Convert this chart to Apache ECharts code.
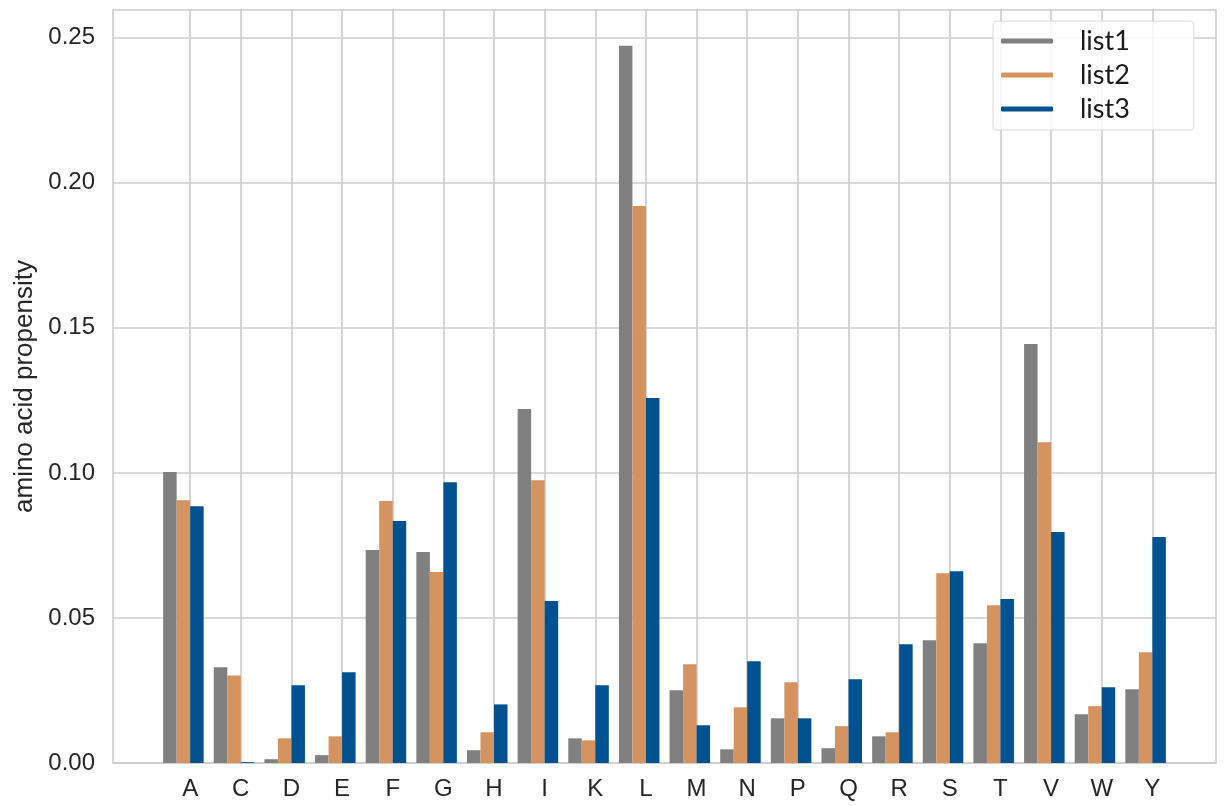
<!DOCTYPE html>
<html>
<head>
<meta charset="utf-8">
<script src="https://cdn.jsdelivr.net/npm/echarts@6/dist/echarts.min.js"></script>
<style>
html,body{margin:0;padding:0;background:#fff;}
#chart{width:1226px;height:806px;}
</style>
</head>
<body>
<div id="chart"></div>
<script>
const categories = ['A','C','D','E','F','G','H','I','K','L','M','N','P','Q','R','S','T','V','W','Y'];
const list1 = [0.1003,0.0330,0.0013,0.0027,0.0734,0.0727,0.0044,0.1220,0.0085,0.2472,0.0251,0.0047,0.0154,0.0051,0.0092,0.0423,0.0413,0.1444,0.0168,0.0254];
const list2 = [0.0906,0.0302,0.0085,0.0092,0.0903,0.0658,0.0106,0.0975,0.0078,0.1920,0.0340,0.0192,0.0278,0.0127,0.0106,0.0654,0.0544,0.1106,0.0196,0.0382];
const list3 = [0.0885,0.0003,0.0268,0.0313,0.0834,0.0968,0.0202,0.0558,0.0268,0.1258,0.0130,0.0351,0.0154,0.0289,0.0409,0.0661,0.0565,0.0796,0.0261,0.0779];
const seriesNames = ['list1','list2','list3'];
const yTicks = [0, 0.05, 0.10, 0.15, 0.20, 0.25];

const colors = ['#808080', '#d5935f', '#00518f'];
const W = 0.8 / 3;
const offsets = [-2 * W, -W, 0];
const allVals = list1.concat(list2, list3);
const yMax = Math.max.apply(null, allVals) * 1.05;
const xLo = offsets[0], xHi = categories.length - 1 + offsets[2] + W;
const xPad = (xHi - xLo) * 0.05;
const idx = categories.map((c, i) => i);

function makeSeries(name, values, k) {
  return {
    name: name,
    type: 'custom',
    coordinateSystem: 'cartesian2d',
    itemStyle: { color: colors[k] },
    encode: { x: 0, y: 1 },
    data: values.map((v, i) => [i, v]),
    renderItem: function (params, api) {
      const i = api.value(0), v = api.value(1);
      const p0 = api.coord([i + offsets[k], v]);
      const p1 = api.coord([i + offsets[k] + W, 0]);
      return {
        type: 'rect',
        shape: { x: p0[0], y: p0[1], width: p1[0] - p0[0], height: p1[1] - p0[1] },
        style: { fill: colors[k] }
      };
    }
  };
}

const chart = echarts.init(document.getElementById('chart'));
const tickFont = { fontFamily: 'Liberation Sans, Arial, sans-serif', fontSize: 24, color: '#262626' };
chart.setOption({
  animation: false,
  backgroundColor: '#ffffff',
  grid: {
    left: 113, top: 10, right: 10, bottom: 43,
    show: true, borderColor: '#cccccc', borderWidth: 1.6, backgroundColor: 'transparent'
  },
  legend: {
    data: seriesNames,
    orient: 'vertical',
    left: 993, top: 21,
    padding: [3, 64, 4, 8],
    itemGap: 0,
    itemWidth: 52, itemHeight: 5,
    icon: 'roundRect',
    backgroundColor: 'rgba(255,255,255,0.85)',
    borderColor: '#d9d9d9', borderWidth: 1, borderRadius: 4,
    textStyle: {
      fontFamily: 'Lato, Open Sans, sans-serif', fontSize: 27, color: '#1a1a1a',
      lineHeight: 34, padding: [0, 0, 0, 22]
    }
  },
  xAxis: {
    type: 'value',
    min: xLo - xPad, max: xHi + xPad,
    axisLine: { show: false },
    axisTick: { show: false, customValues: idx },
    axisLabel: {
      customValues: idx,
      margin: 14,
      formatter: function (v) { return categories[Math.round(v)]; },
      ...tickFont
    },
    splitLine: { show: true, lineStyle: { color: '#cccccc', width: 1.6 } }
  },
  yAxis: {
    type: 'value',
    min: 0, max: yMax,
    axisLine: { show: false },
    axisTick: { show: false, customValues: yTicks },
    axisLabel: {
      customValues: yTicks,
      margin: 18,
      formatter: function (v) { return v.toFixed(2); },
      ...tickFont
    },
    splitLine: { show: true, lineStyle: { color: '#cccccc', width: 1.6 } },
    name: 'amino acid propensity',
    nameLocation: 'middle',
    nameRotate: 90,
    nameGap: 70,
    nameTextStyle: { fontFamily: 'Liberation Sans, Arial, sans-serif', fontSize: 26, color: '#262626' }
  },
  series: [makeSeries('list1', list1, 0), makeSeries('list2', list2, 1), makeSeries('list3', list3, 2)]
});
</script>
</body>
</html>
